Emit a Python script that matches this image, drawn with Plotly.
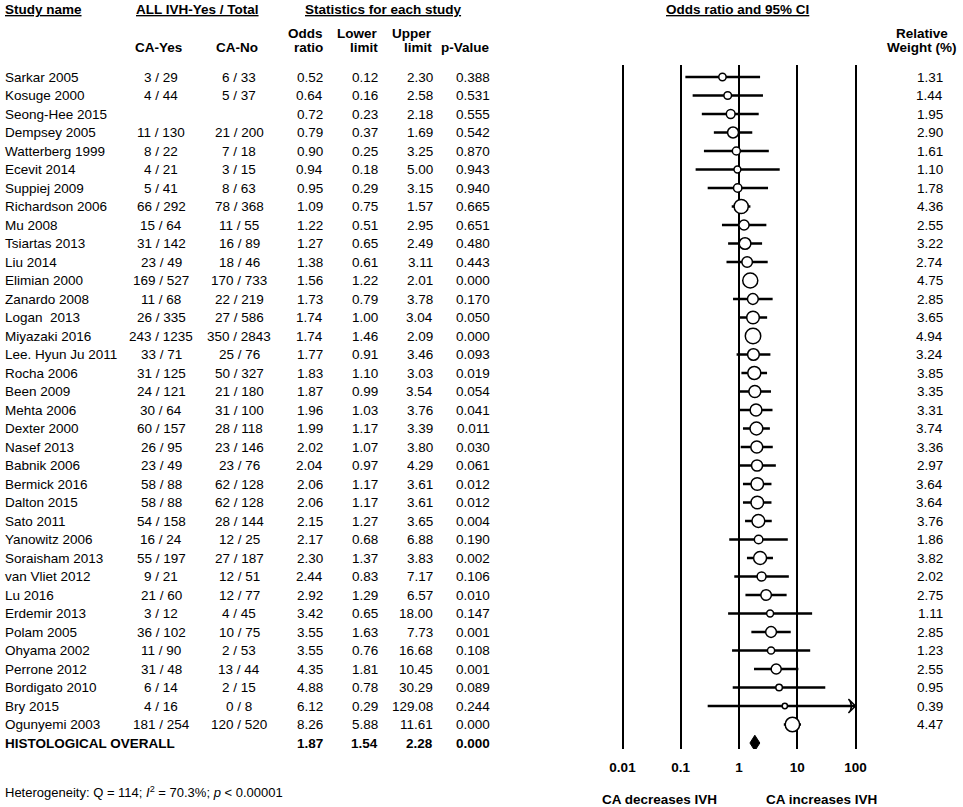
import plotly.graph_objects as go

# ==== data ====
study_names = ["Sarkar 2005", "Kosuge 2000", "Seong-Hee 2015", "Dempsey 2005", "Watterberg 1999",
               "Ecevit 2014", "Suppiej 2009", "Richardson 2006", "Mu 2008", "Tsiartas 2013",
               "Liu 2014", "Elimian 2000", "Zanardo 2008", "Logan  2013", "Miyazaki 2016",
               "Lee. Hyun Ju 2011", "Rocha 2006", "Been 2009", "Mehta 2006", "Dexter 2000",
               "Nasef 2013", "Babnik 2006", "Bermick 2016", "Dalton 2015", "Sato 2011",
               "Yanowitz 2006", "Soraisham 2013", "van Vliet 2012", "Lu 2016", "Erdemir 2013",
               "Polam 2005", "Ohyama 2002", "Perrone 2012", "Bordigato 2010", "Bry 2015",
               "Ogunyemi 2003"]
ca_yes = ["3 / 29", "4 / 44", "", "11 / 130", "8 / 22", "4 / 21", "5 / 41", "66 / 292", "15 / 64",
          "31 / 142", "23 / 49", "169 / 527", "11 / 68", "26 / 335", "243 / 1235", "33 / 71",
          "31 / 125", "24 / 121", "30 / 64", "60 / 157", "26 / 95", "23 / 49", "58 / 88", "58 / 88",
          "54 / 158", "16 / 24", "55 / 197", "9 / 21", "21 / 60", "3 / 12", "36 / 102", "11 / 90",
          "31 / 48", "6 / 14", "4 / 16", "181 / 254"]
ca_no = ["6 / 33", "5 / 37", "", "21 / 200", "7 / 18", "3 / 15", "8 / 63", "78 / 368", "11 / 55",
         "16 / 89", "18 / 46", "170 / 733", "22 / 219", "27 / 586", "350 / 2843", "25 / 76",
         "50 / 327", "21 / 180", "31 / 100", "28 / 118", "23 / 146", "23 / 76", "62 / 128", "62 / 128",
         "28 / 144", "12 / 25", "27 / 187", "12 / 51", "12 / 77", "4 / 45", "10 / 75", "2 / 53",
         "13 / 44", "2 / 15", "0 / 8", "120 / 520"]
odds_ratio = [0.52, 0.64, 0.72, 0.79, 0.90, 0.94, 0.95, 1.09, 1.22, 1.27, 1.38, 1.56, 1.73, 1.74,
              1.74, 1.77, 1.83, 1.87, 1.96, 1.99, 2.02, 2.04, 2.06, 2.06, 2.15, 2.17, 2.30, 2.44,
              2.92, 3.42, 3.55, 3.55, 4.35, 4.88, 6.12, 8.26]
lower = [0.12, 0.16, 0.23, 0.37, 0.25, 0.18, 0.29, 0.75, 0.51, 0.65, 0.61, 1.22, 0.79, 1.00,
         1.46, 0.91, 1.10, 0.99, 1.03, 1.17, 1.07, 0.97, 1.17, 1.17, 1.27, 0.68, 1.37, 0.83,
         1.29, 0.65, 1.63, 0.76, 1.81, 0.78, 0.29, 5.88]
upper = [2.30, 2.58, 2.18, 1.69, 3.25, 5.00, 3.15, 1.57, 2.95, 2.49, 3.11, 2.01, 3.78, 3.04,
         2.09, 3.46, 3.03, 3.54, 3.76, 3.39, 3.80, 4.29, 3.61, 3.61, 3.65, 6.88, 3.83, 7.17,
         6.57, 18.00, 7.73, 16.68, 10.45, 30.29, 129.08, 11.61]
p_value = ["0.388", "0.531", "0.555", "0.542", "0.870", "0.943", "0.940", "0.665", "0.651", "0.480",
           "0.443", "0.000", "0.170", "0.050", "0.000", "0.093", "0.019", "0.054", "0.041", "0.011",
           "0.030", "0.061", "0.012", "0.012", "0.004", "0.190", "0.002", "0.106", "0.010", "0.147",
           "0.001", "0.108", "0.001", "0.089", "0.244", "0.000"]
rel_weight = [1.31, 1.44, 1.95, 2.90, 1.61, 1.10, 1.78, 4.36, 2.55, 3.22, 2.74, 4.75, 2.85, 3.65,
              4.94, 3.24, 3.85, 3.35, 3.31, 3.74, 3.36, 2.97, 3.64, 3.64, 3.76, 1.86, 3.82, 2.02,
              2.75, 1.11, 2.85, 1.23, 2.55, 0.95, 0.39, 4.47]

overall_name = "HISTOLOGICAL OVERALL"
overall_or, overall_lo, overall_hi, overall_p = 1.87, 1.54, 2.28, "0.000"

tick_vals = [0.01, 0.1, 1, 10, 100]
tick_text = ["0.01", "0.1", "1", "10", "100"]

# ==== layout helpers ====
W, H = 963, 807
FONT = "Liberation Sans, Arial, sans-serif"
FS = 13.5
x_max = tick_vals[-1]
n = len(study_names)
rows = list(range(n))
overall_row = n


def px(x):
    return x / W


def py(y):
    return 1 - y / H


fig = go.Figure()

# CI lines
for i in rows:
    hi = min(upper[i], x_max)
    fig.add_trace(go.Scatter(x=[lower[i], hi], y=[i, i], mode="lines",
                             line=dict(color="black", width=2.7),
                             hoverinfo="skip", showlegend=False))
    if upper[i] > x_max:
        # clipped upper limit -> open arrow head
        fig.add_trace(go.Scatter(x=[hi], y=[i], mode="markers",
                                 marker=dict(symbol="arrow-wide-open", angle=90, size=10,
                                             color="black",
                                             line=dict(color="black", width=1.5)),
                                 hoverinfo="skip", showlegend=False))

# point estimates, box size grows with weight
fig.add_trace(go.Scatter(
    x=odds_ratio, y=rows, mode="markers",
    marker=dict(symbol="circle", color="white", opacity=1,
                size=[4.4 + 2.24 * w for w in rel_weight],
                line=dict(color="black", width=1.5)),
    text=study_names, hovertemplate="%{text}: %{x}<extra></extra>",
    showlegend=False))

# overall diamond
fig.add_trace(go.Scatter(
    x=[overall_lo, overall_or, overall_hi, overall_or, overall_lo],
    y=[overall_row, overall_row - 0.42, overall_row, overall_row + 0.42, overall_row],
    mode="lines", fill="toself", fillcolor="black",
    line=dict(color="black", width=1), hoverinfo="skip", showlegend=False))

ann = []


def txt(x, y, s, anchor="left", bold=False, yref="y", size=FS):
    if not s:
        return
    if bold:
        s = f"<b>{s}</b>"
    ann.append(dict(x=px(x), y=y, xref="paper", yref=yref, text=s, showarrow=False,
                    xanchor=anchor, yanchor="middle",
                    font=dict(family=FONT, size=size, color="black")))


# headers
txt(3, py(10), "<u>Study name</u>", "left", True, "paper")
txt(197, py(10), "<u>ALL IVH-Yes / Total</u>", "center", True, "paper")
txt(383, py(10), "<u>Statistics for each study</u>", "center", True, "paper")
txt(737, py(10), "<u>Odds ratio and 95% CI</u>", "center", True, "paper")
txt(158, py(47), "CA-Yes", "center", True, "paper")
txt(237, py(47), "CA-No", "center", True, "paper")
txt(325, py(33), "Odds", "right", True, "paper")
txt(325, py(47), "ratio", "right", True, "paper")
txt(380, py(33), "Lower", "right", True, "paper")
txt(380, py(47), "limit", "right", True, "paper")
txt(434, py(33), "Upper", "right", True, "paper")
txt(434, py(47), "limit", "right", True, "paper")
txt(492, py(47), "p-Value", "right", True, "paper")
txt(922, py(34), "Relative", "center", True, "paper")
txt(922, py(47), "Weight (%)", "center", True, "paper")

# table rows
for i in rows:
    txt(3, i, study_names[i])
    txt(161, i, ca_yes[i], "center")
    txt(239, i, ca_no[i], "center")
    txt(325, i, f"{odds_ratio[i]:.2f}", "right")
    txt(380, i, f"{lower[i]:.2f}", "right")
    txt(435, i, f"{upper[i]:.2f}", "right")
    txt(492, i, p_value[i], "right")
    txt(945, i, f"{rel_weight[i]:.2f}", "right")

txt(3, overall_row, overall_name, "left", True)
txt(325, overall_row, f"{overall_or:.2f}", "right", True)
txt(380, overall_row, f"{overall_lo:.2f}", "right", True)
txt(435, overall_row, f"{overall_hi:.2f}", "right", True)
txt(492, overall_row, overall_p, "right", True)

# footer
txt(3, py(792), "Heterogeneity: Q = 114; <i>I</i><sup>2</sup> = 70.3%; <i>p</i> &lt; 0.00001",
    "left", False, "paper", 13)
txt(659, py(799), "CA decreases IVH", "center", True, "paper")
txt(821, py(799), "CA increases IVH", "center", True, "paper")

# y: row 0 at pixel 77, row step 18.5, plot area from 65 to 749
top_px, bot_px, row0_px, step = 65, 749, 77, 18.5
r_top = (top_px - row0_px) / step
r_bot = r_top + (bot_px - top_px) / step

# x: decades 58.25 px apart, 1 at pixel 739; pad range so edge gridlines survive
dec_px, one_px, pad = 58.25, 739, 0.03
x_lo, x_hi = -2 - pad, 2 + pad

fig.update_layout(
    template="none",
    width=W, height=H,
    margin=dict(l=0, r=0, t=0, b=0, autoexpand=False),
    paper_bgcolor="white", plot_bgcolor="white",
    font=dict(family=FONT, size=FS, color="black"),
    annotations=ann,
    showlegend=False,
    xaxis=dict(type="log", range=[x_lo, x_hi],
               domain=[px(one_px + x_lo * dec_px), px(one_px + x_hi * dec_px)],
               tickvals=tick_vals, ticktext=[f"<b>{t}</b>" for t in tick_text],
               showgrid=True, gridcolor="black", gridwidth=1.8,
               zeroline=False, showline=False, ticks="", automargin=False,
               ticklabelstandoff=8,
               tickfont=dict(family=FONT, size=FS, color="black")),
    yaxis=dict(range=[r_bot, r_top], domain=[py(bot_px), py(top_px)],
               showgrid=False, zeroline=False, showline=False, automargin=False,
               showticklabels=False, ticks=""),
)

# page body has a default 8px margin; drop it so the figure sits at the window corner
fig.write_html("out.html", config={"displayModeBar": False},
               post_script="document.body.style.margin='0';")
